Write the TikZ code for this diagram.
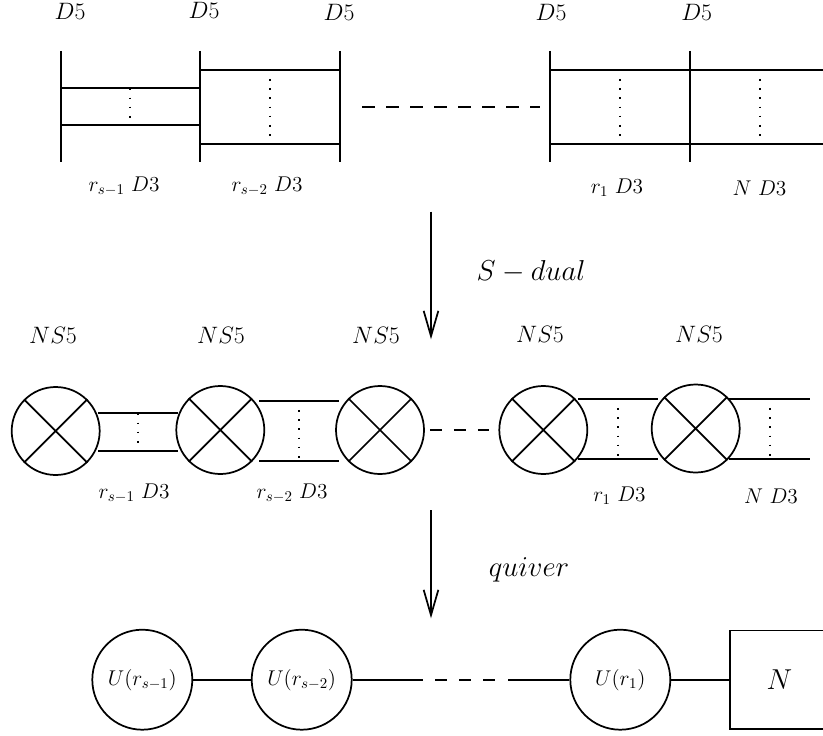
\RequirePackage{fix-cm}
\documentclass[tikz,border=0pt]{standalone}
\usetikzlibrary{arrows.meta,calc}
\tikzset{
  x=0.75pt,y=-0.75pt,
  every path/.style={line width=1.3pt},
  lbl/.style={inner sep=0pt,font=\fontsize{17.8}{20}\selectfont},
  biglbl/.style={inner sep=0pt,font=\fontsize{21.6}{24}\selectfont},
  small/.style={inner sep=0pt,font=\fontsize{16}{18}\selectfont},
  gauge/.style={circle,draw,line width=1.3pt,minimum size=75pt,inner sep=0pt,font=\fontsize{16}{18}\selectfont},
  nsfive/.style={circle,draw,line width=1.3pt,minimum size=66pt,inner sep=0pt},
  boxnode/.style={rectangle,draw,line width=1.3pt,minimum size=74pt,inner sep=0pt,font=\fontsize{21.6}{24}\selectfont},
  dots/.style={line width=1.4pt,dash pattern=on 1.3pt off 5.6pt},
  dashes/.style={line width=1.3pt,dash pattern=on 9.4pt off 8.6pt},
  flow/.style={line width=1.3pt,-{Straight Barb[length=19pt,width=11pt,line width=1.3pt]}},
}
\newcommand{\crs}[1]{\draw (#1.45)--(#1.225) (#1.135)--(#1.315);}
\begin{document}
\begin{tikzpicture}
\useasboundingbox (0,0) rectangle (823,735);
% ---------- D5 row
\foreach \n/\x/\lx/\ly in {a/60.7/70/11,b/200.3/204/10,c/340.3/339/12,d/550/551/12.7,e/690/696.7/12.7}{
  \coordinate (\n t) at (\x,51);
  \coordinate (\n b) at (\x,162);
  \draw (\n t)--(\n b);
  \node[lbl] (l\n) at (\lx,\ly) {$D5$};
}
\foreach \n/\xa/\xb/\u/\v/\xm in {p/60.7/200.3/88.3/125/130.3,q/200.3/340.3/69.7/143.7/270,r/550/690/69.7/143.7/620,s/690/830/69.7/143.7/759.7}{
  \coordinate (\n a) at (\xa,\u); \coordinate (\n b) at (\xb,\u);
  \coordinate (\n c) at (\xa,\v); \coordinate (\n d) at (\xb,\v);
  \coordinate (\n e) at (\xm,\u); \coordinate (\n f) at (\xm,\v);
  \draw (\n a)--(\n b);
  \draw (\n c)--(\n d);
  \draw[dots] (\n e)--(\n f);
}
\coordinate (ds) at (362,106.7);
\coordinate (de) at (540,106.7);
\draw[dashes] (ds)--(de);
\node[small] (t1) at (124,186) {$r_{s-1}\ D3$};
\node[small] (t2) at (267,186) {$r_{s-2}\ D3$};
\node[small] (t3) at (617,188) {$r_{1}\ D3$};
\node[small] (t4) at (759.5,188) {$N\ D3$};
% ---------- S-dual arrow
\coordinate (ar1) at (431,211.7);
\coordinate (ar2) at (431,339.3);
\draw[flow] (ar1)--(ar2);
\node[biglbl] (sd) at (531,272) {$S-dual$};
% ---------- NS5 row
\node[nsfive] (n1) at (55.7,431) {};
\node[nsfive] (n2) at (220.3,430) {};
\node[nsfive] (n3) at (380,430) {};
\node[nsfive] (n4) at (543.3,430) {};
\node[nsfive] (n5) at (695.7,428.5) {};
\foreach \n in {n1,n2,n3,n4,n5}{\crs{\n}}
\node[lbl] (m1) at (53,335) {$NS5$};
\node[lbl] (m2) at (221,335) {$NS5$};
\node[lbl] (m3) at (376,335) {$NS5$};
\node[lbl] (m4) at (540,334) {$NS5$};
\node[lbl] (m5) at (699,334) {$NS5$};
\foreach \n/\xa/\xb/\u/\v/\xm in {w/98.3/177.7/413.3/450.7/138,x/259.3/339.3/400.7/460.7/299,y/578/658/398.7/459/618.3,z/729.3/810/398.7/459/769.7}{
  \coordinate (\n a) at (\xa,\u); \coordinate (\n b) at (\xb,\u);
  \coordinate (\n c) at (\xa,\v); \coordinate (\n d) at (\xb,\v);
  \coordinate (\n e) at (\xm,\u); \coordinate (\n f) at (\xm,\v);
  \draw (\n a)--(\n b);
  \draw (\n c)--(\n d);
  \draw[dots] (\n e)--(\n f);
}
\draw[line width=1.3pt,dash pattern=on 9pt off 9pt,shorten <=3.75pt,shorten >=7pt] (n3.east)--(n4.west);
\node[small] (u1) at (134,493) {$r_{s-1}\ D3$};
\node[small] (u2) at (292,493) {$r_{s-2}\ D3$};
\node[small] (u3) at (619.5,496) {$r_{1}\ D3$};
\node[small] (u4) at (771,496) {$N\ D3$};
% ---------- quiver arrow
\coordinate (br1) at (431,510);
\coordinate (br2) at (431,618.3);
\draw[flow] (br1)--(br2);
\node[biglbl] (qv) at (529,570) {$quiver$};
% ---------- quiver row
\node[gauge] (g1) at (142.3,679.7) {$U(r_{s-1})$};
\node[gauge] (g2) at (301.7,679.7) {$U(r_{s-2})$};
\node[gauge] (g3) at (620.3,679.7) {$U(r_{1})$};
\node[boxnode] (bx) at (779.5,679.7) {$N$};
\draw (g1)--(g2);
\coordinate (h1) at (423,679.7);
\coordinate (h2) at (435,679.7);
\coordinate (h3) at (495,679.7);
\coordinate (h4) at (508,679.7);
\draw (g2)--(h1);
\draw[line width=1.3pt,dash pattern=on 9pt off 9pt] (h2)--(h3);
\draw (h4)--(g3);
\draw (g3)--(bx);
\end{tikzpicture}
\end{document}
